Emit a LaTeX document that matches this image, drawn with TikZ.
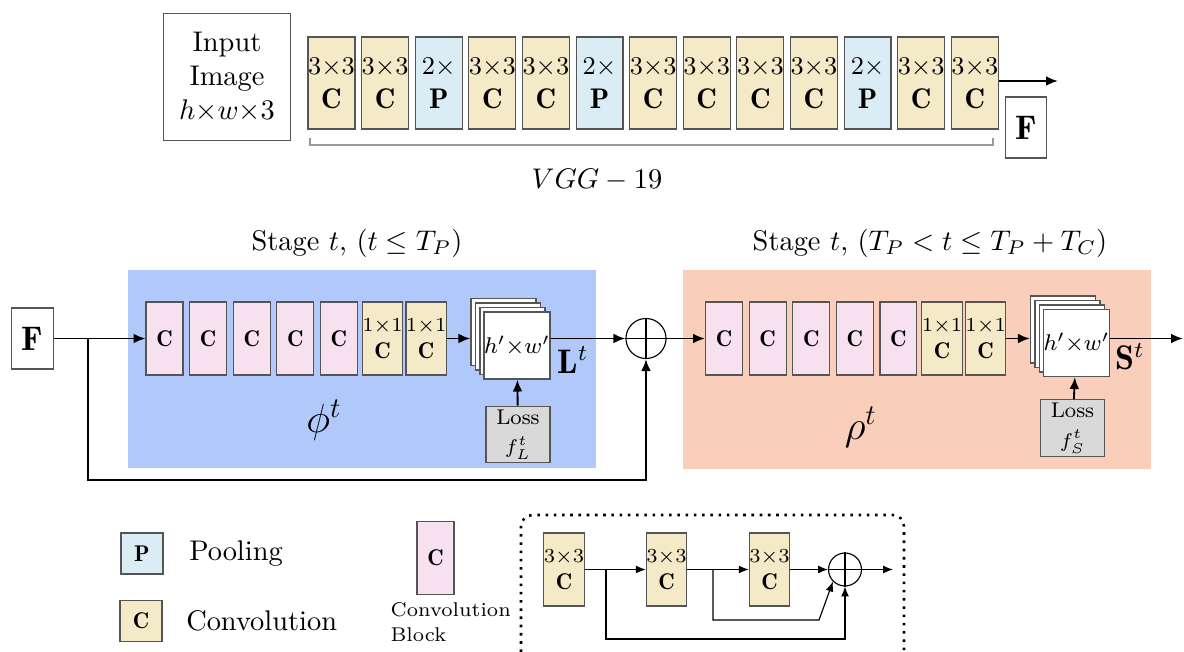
\documentclass[tikz,border=0pt]{standalone}
\usepackage{amsmath,amssymb}
\usepackage{fontspec}
\usetikzlibrary{positioning,arrows.meta}
\definecolor{convcol}{HTML}{F5EAC8}
\definecolor{poolcol}{HTML}{DAEDF5}
\definecolor{blockcol}{HTML}{F7E1EF}
\definecolor{bluebg}{HTML}{B0C8FA}
\definecolor{orangebg}{HTML}{F9CFBB}
\definecolor{lossgray}{HTML}{D9D9D9}
\definecolor{edgegray}{HTML}{555555}
\definecolor{bracegray}{HTML}{999999}
\begin{document}
\begin{tikzpicture}[
  x=0.352pt, y=-0.352pt,
  conv/.style={rectangle, draw=edgegray, fill=convcol, minimum width=16.5pt, minimum height=32.4pt, inner sep=0pt, align=center},
  pool/.style={conv, fill=poolcol},
  cblock/.style={rectangle, draw=edgegray, fill=blockcol, minimum width=13pt, minimum height=25.7pt, inner sep=0pt, align=center, font=\footnotesize},
  sconv/.style={cblock, fill=convcol},
  fmap/.style={rectangle, draw=edgegray, fill=white, minimum width=22.9pt, minimum height=23.6pt, inner sep=0pt, font=\footnotesize},
  loss/.style={rectangle, draw=edgegray, fill=lossgray, minimum width=22.5pt, minimum height=20pt, inner sep=0pt, align=center, font=\fontsize{7.5}{10.5}\selectfont},
  feat/.style={rectangle, draw=edgegray, minimum width=14.6pt, minimum height=21.5pt, inner sep=0pt, font=\large},
  sum/.style={circle, draw, minimum size=14.1pt, inner sep=0pt},
  link/.style={-{Latex[length=4.2pt,width=3.4pt]}, line width=0.65pt},
  node distance=18.87pt,
  >={Latex[length=3.5pt,width=2.8pt]}
]
\useasboundingbox (0,0) rectangle (1184,652);

% VGG-19 front end
\node[draw=edgegray, minimum size=45pt, align=center] (img) at (227,77) {Input\\Image\\$h{\times}w{\times}3$};
\node[conv] (c1) at (331.5,83) {{\small$3{\times}3$}\\$\mathbf{C}$};
\node[conv, right of=c1] (c2) {{\small$3{\times}3$}\\$\mathbf{C}$};
\node[pool, right of=c2] (p1) {{\small$2{\times}$}\\$\mathbf{P}$};
\node[conv, right of=p1] (c3) {{\small$3{\times}3$}\\$\mathbf{C}$};
\node[conv, right of=c3] (c4) {{\small$3{\times}3$}\\$\mathbf{C}$};
\node[pool, right of=c4] (p2) {{\small$2{\times}$}\\$\mathbf{P}$};
\node[conv, right of=p2] (c5) {{\small$3{\times}3$}\\$\mathbf{C}$};
\node[conv, right of=c5] (c6) {{\small$3{\times}3$}\\$\mathbf{C}$};
\node[conv, right of=c6] (c7) {{\small$3{\times}3$}\\$\mathbf{C}$};
\node[conv, right of=c7] (c8) {{\small$3{\times}3$}\\$\mathbf{C}$};
\node[pool, right of=c8] (p3) {{\small$2{\times}$}\\$\mathbf{P}$};
\node[conv, right of=p3] (c9) {{\small$3{\times}3$}\\$\mathbf{C}$};
\node[conv, right of=c9] (c10) {{\small$3{\times}3$}\\$\mathbf{C}$};
\coordinate (vggout) at (1058,81);
\draw[link] (c10.east |- vggout) -- (vggout);
\node[feat] (ftop) at (1026,127.5) {$\mathbf{F}$};
\draw[bracegray] (310,138) -- (310,145) -- (993,145) -- (993,138);
\node (vgg) at (597,180) {$VGG-19$};

% two stages
\fill[bluebg] (128,270) rectangle (596,468);
\fill[orangebg] (683,270) rectangle (1151,469);
\node (stageP) at (357,243) {Stage $t$, $(t\leq T_P)$};
\node (stageC) at (930,243) {Stage $t$, $(T_P<t\leq T_P+T_C)$};

\node[feat] (fin) at (32.5,338.5) {$\mathbf{F}$};
\begin{scope}[node distance=15.35pt]
\node[cblock] (a1) at (164.5,338.5) {$\mathbf{C}$};
\node[cblock, right of=a1] (a2) {$\mathbf{C}$};
\node[cblock, right of=a2] (a3) {$\mathbf{C}$};
\node[cblock, right of=a3] (a4) {$\mathbf{C}$};
\node[cblock, right of=a4] (a5) {$\mathbf{C}$};
\node[sconv, right of=a5] (a6) {{\scriptsize$1{\times}1$}\\$\mathbf{C}$};
\node[sconv, right of=a6] (a7) {{\scriptsize$1{\times}1$}\\$\mathbf{C}$};
\node[cblock] (b1) at (724,338.5) {$\mathbf{C}$};
\node[cblock, right of=b1] (b2) {$\mathbf{C}$};
\node[cblock, right of=b2] (b3) {$\mathbf{C}$};
\node[cblock, right of=b3] (b4) {$\mathbf{C}$};
\node[cblock, right of=b4] (b5) {$\mathbf{C}$};
\node[sconv, right of=b5] (b6) {{\scriptsize$1{\times}1$}\\$\mathbf{C}$};
\node[sconv, right of=b6] (b7) {{\scriptsize$1{\times}1$}\\$\mathbf{C}$};
\end{scope}

\node[fmap] (sl3) at (503.5,332) {};
\node[fmap] (sl2) at (508,336.5) {};
\node[fmap] (sl1) at (512.5,341) {};
\node[fmap] (sl0) at (517,345.5) {$h'{\times}w'$};
\node[loss] (lossL) at (518,434.5) {Loss\\$f_L^t$};
\node[font=\large] (lt) at (573,360) {$\mathbf{L}^t$};
\node[font=\Large] (phi) at (324,420) {$\phi^t$};

\node[fmap] (sr3) at (1063,329.5) {};
\node[fmap] (sr2) at (1067.5,334) {};
\node[fmap] (sr1) at (1072,338.5) {};
\node[fmap] (sr0) at (1076.5,343) {$h'{\times}w'$};
\node[loss] (lossR) at (1072.5,428) {Loss\\$f_S^t$};
\node[font=\large] (st) at (1130,357) {$\mathbf{S}^t$};
\node[font=\Large] (rho) at (861,427) {$\rho^t$};

\node[sum] (sum) at (646,338.5) {};
\draw (sum.north) -- (sum.south) (sum.west) -- (sum.east);

\coordinate (split) at (88,338.5);
\coordinate (skip) at (88,480);
\coordinate (outS) at (1183,338.5);
\draw[link] (fin) -- (a1);
\draw[link] (split) -- (skip) -| (sum);
\draw[link] (a7) -- (a7 -| sl3.west);
\draw[link] (sl0.east |- sum) -- (sum);
\draw[link] (lossL) -- (sl0);
\draw[link] (sum) -- (b1);
\draw[link] (b7) -- (b7 -| sr3.west);
\draw[link] (sr0.east |- sum) -- (outS);
\draw[link] (lossR) -- (sr0);

% legend
\node[draw=edgegray, fill=poolcol, minimum width=14.8pt, minimum height=14.4pt, inner sep=0pt, font=\footnotesize] (legP) at (142,553.5) {$\mathbf{P}$};
\node[right=5.5pt of legP] (legPtxt) {Pooling};
\node[draw=edgegray, fill=convcol, minimum width=14.8pt, minimum height=14.4pt, inner sep=0pt, font=\footnotesize] (legC) at (141,621) {$\mathbf{C}$};
\node[right=4.8pt of legC] (legCtxt) {Convolution};
\node[cblock] (legB) at (435.5,558) {$\mathbf{C}$};
\node[anchor=west, inner sep=0pt, align=left, font=\fontsize{7}{8.6}\selectfont] (legBtxt) at (390,622) {Convolution\\Block};

% residual block
\draw[dotted, line width=0.9pt, rounded corners=4pt] (521,652) -- (521,515) -- (904,515) -- (904,652);
\node[sconv] (r1) at (564,569.5) {{\scriptsize$3{\times}3$}\\$\mathbf{C}$};
\node[sconv] (r2) at (666.5,569.5) {{\scriptsize$3{\times}3$}\\$\mathbf{C}$};
\node[sconv] (r3) at (769.5,569.5) {{\scriptsize$3{\times}3$}\\$\mathbf{C}$};
\node[sum, minimum size=11.6pt] (rsum) at (845,569.5) {};
\draw (rsum.north) -- (rsum.south) (rsum.west) -- (rsum.east);
\coordinate (rout) at (893,569.5);
\coordinate (rs1) at (606,569.5);
\coordinate (rs1low) at (606,639);
\coordinate (rs2) at (713,569.5);
\coordinate (rs2low) at (713,620);
\coordinate (rs2bend) at (819,620);
\draw[->] (r1) -- (r2);
\draw[->] (r2) -- (r3);
\draw[->] (r3) -- (rsum);
\draw[->] (rsum) -- (rout);
\draw[->] (rs1) -- (rs1low) -| (rsum);
\draw[->] (rs2) -- (rs2low) -- (rs2bend) -- (rsum.south west);
\end{tikzpicture}
\end{document}
